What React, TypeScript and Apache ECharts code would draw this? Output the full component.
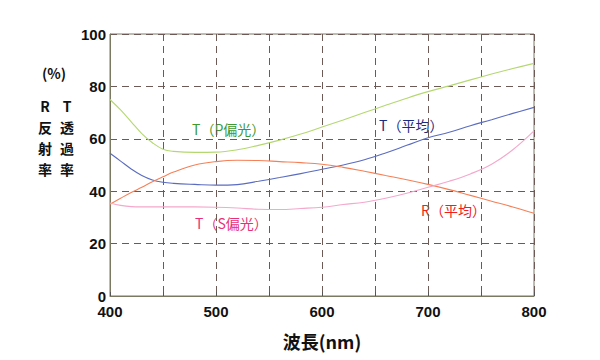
import React, { useEffect, useRef } from "react";
import * as echarts from "echarts";

const wavelengths = [400, 410, 420, 430, 440, 450, 460, 480, 500, 520, 540, 560, 580, 600, 620, 640, 660, 680, 700, 720, 740, 760, 780, 800];
const tP = [75, 71, 66.5, 62, 58.5, 56, 55.2, 54.8, 54.9, 55.8, 57.5, 59.5, 61.8, 64.5, 67.2, 70, 72.8, 75.5, 78, 80.2, 82.5, 84.7, 86.8, 88.8];
const tAvg = [54.5, 51.5, 48.5, 46, 44.3, 43.4, 43, 42.6, 42.3, 42.5, 43.8, 45.2, 46.7, 48.4, 50, 52, 54.6, 57.5, 60.4, 62.5, 65, 67.3, 69.7, 72];
const rAvg = [35, 37.3, 39.5, 41.5, 43.6, 45.5, 47.3, 50, 51.3, 51.8, 51.7, 51.3, 50.9, 50.3, 49.1, 47.6, 46, 44.4, 42.6, 40.6, 38.4, 36.2, 34, 31.6];
const tS = [35.5, 34.6, 34.1, 34, 34, 34, 34, 34, 33.9, 33.6, 33.1, 33, 33.4, 33.9, 34.9, 35.8, 37.3, 39.2, 41.5, 43.8, 46.6, 50.3, 55.8, 63];

const seriesNames = ["T(P偏光)", "T(平均)", "R(平均)", "T(S偏光)"];
const yTicks = [0, 20, 40, 60, 80, 100];
const xLabel = "波長(nm)";

const pair = (vals: number[]) => wavelengths.map((w, i) => [w, vals[i]]);

export default function App() {
  const ref = useRef<HTMLDivElement>(null);
  useEffect(() => {
    document.body.style.margin = "0";
    const chart = echarts.init(ref.current!, null, { renderer: "svg" });
    const labelFont = "'Liberation Sans', Arial, sans-serif";
    const cjk = "'Noto Sans CJK JP', sans-serif";
    const gridColor = "#6e5a55";
    const mkSeries = (name: string, vals: number[], color: string) => ({
      name,
      type: "line",
      data: pair(vals),
      smooth: 0.4,
      showSymbol: false,
      lineStyle: { color, width: 1.1 },
    });
    const leftText = (text: string, x: number, y: number, size = 14) => ({
      type: "text",
      x,
      y,
      style: { text, fill: "#111", font: `bold ${size}px ${cjk}`, textAlign: "center", textVerticalAlign: "middle" },
    });
    const inText = (text: string, x: number, y: number, color: string) => ({
      type: "text",
      x,
      y,
      style: { text, fill: color, font: `14px ${cjk}`, textAlign: "left", textVerticalAlign: "middle" },
    });
    chart.setOption({
      animation: false,
      backgroundColor: "#fff",
      grid: { left: 110, top: 34, width: 424, height: 262, show: true, borderColor: "#7a7a62", borderWidth: 1 },
      xAxis: {
        type: "value",
        min: 400,
        max: 800,
        interval: 50,
        axisLine: { show: true, lineStyle: { color: "#7a7a62" } },
        axisTick: { show: true, inside: true, length: 4, lineStyle: { color: "#555" } },
        axisLabel: {
          color: "#111",
          fontFamily: labelFont,
          fontWeight: "bold",
          fontSize: 15,
          margin: 8,
          formatter: (v: number) => (v % 100 === 0 ? String(v) : ""),
        },
        splitLine: { show: true, lineStyle: { color: gridColor, type: [7, 5], width: 1 } },
        name: xLabel,
        nameLocation: "middle",
        nameGap: 36,
        nameTextStyle: { color: "#111", fontFamily: cjk, fontWeight: "bold", fontSize: 18 },
      },
      yAxis: {
        type: "value",
        min: 0,
        max: 100,
        interval: 20,
        axisLine: { show: true, lineStyle: { color: "#7a7a62" } },
        axisTick: { show: false },
        axisLabel: {
          color: "#111",
          fontFamily: labelFont,
          fontWeight: "bold",
          fontSize: 15,
          margin: 4,
          formatter: (v: number) => (yTicks.includes(v) ? String(v) : ""),
        },
        splitLine: { show: true, lineStyle: { color: gridColor, type: [7, 5], width: 1 } },
      },
      series: [
        mkSeries(seriesNames[0], tP, "#b4d870"),
        mkSeries(seriesNames[1], tAvg, "#5a6cc0"),
        mkSeries(seriesNames[2], rAvg, "#f58058"),
        mkSeries(seriesNames[3], tS, "#f4a8cc"),
      ],
      graphic: [
        leftText("(%)", 54, 73, 14),
        leftText("R", 45, 106),
        leftText("T", 67, 106),
        leftText("反", 45, 127),
        leftText("透", 67, 127),
        leftText("射", 45, 148),
        leftText("過", 67, 148),
        leftText("率", 45, 169),
        leftText("率", 67, 169),
        inText("T（P偏光）", 192, 129, "#3c9a30"),
        inText("T（平均）", 379, 125, "#1c2c80"),
        inText("T（S偏光）", 195, 223, "#e8307a"),
        inText("R（平均）", 421, 210, "#f02018"),
      ],
    });
    return () => chart.dispose();
  }, []);
  return <div ref={ref} style={{ width: 600, height: 360 }} />;
}
